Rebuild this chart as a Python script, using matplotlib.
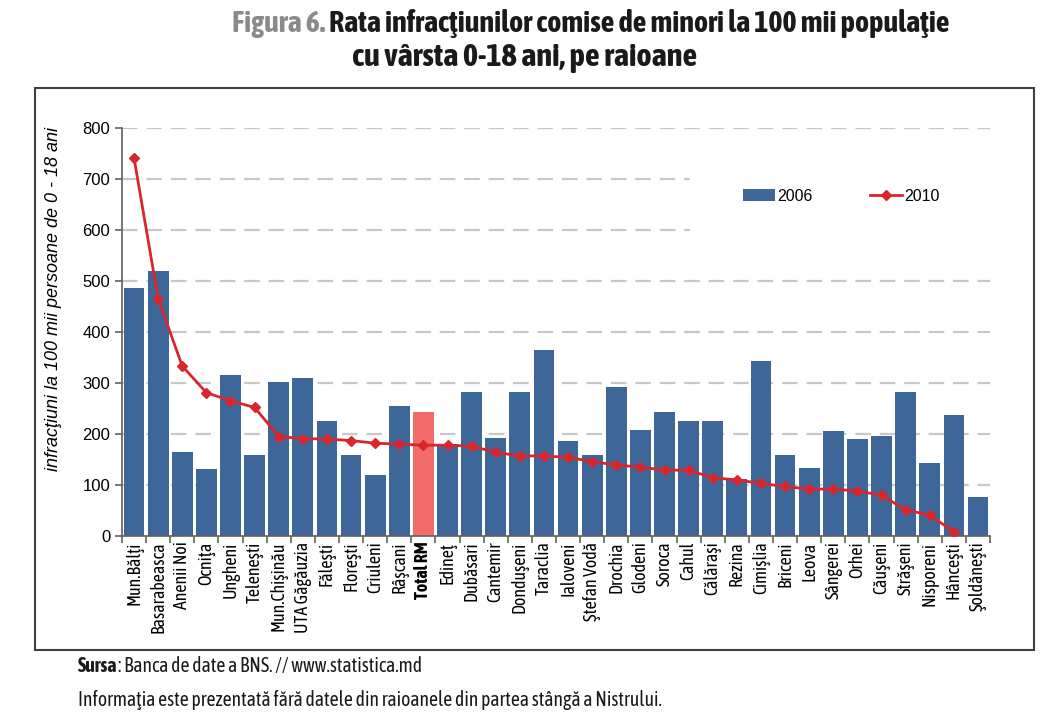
import matplotlib
matplotlib.use('Agg')
import matplotlib.pyplot as plt
from matplotlib import font_manager
import numpy as np
from matplotlib.patches import Rectangle, Patch
from matplotlib.lines import Line2D

raioane = ['Mun.Bălţi', 'Basarabeasca', 'Anenii Noi', 'Ocniţa', 'Ungheni', 'Teleneşti',
           'Mun.Chişinău', 'UTA Găgăuzia', 'Făleşti', 'Floreşti', 'Criuleni', 'Râşcani',
           'Total RM', 'Edineţ', 'Dubăsari', 'Cantemir', 'Donduşeni', 'Taraclia',
           'Ialoveni', 'Ştefan Vodă', 'Drochia', 'Glodeni', 'Soroca', 'Cahul',
           'Călăraşi', 'Rezina', 'Cimişlia', 'Briceni', 'Leova', 'Sângerei', 'Orhei',
           'Căuşeni', 'Străşeni', 'Nisporeni', 'Hânceşti', 'Şoldăneşti']
rata_2006 = [486, 520, 164, 131, 315, 159, 301, 310, 225, 159, 119, 254,
             244, 180, 282, 193, 282, 365, 187, 158, 293, 207, 243, 225,
             225, 112, 344, 158, 133, 205, 190, 196, 282, 144, 237, 76]
rata_2010 = [741, 465, 333, 281, 265, 252, 195, 191, 190, 187, 182, 180,
             178, 178, 176, 164, 157, 157, 154, 146, 139, 135, 129, 129,
             114, 110, 103, 97, 92, 92, 88, 80, 51, 41, 8, np.nan]


def wnum(w):
    if isinstance(w, str):
        return font_manager.weight_dict.get(w, 400)
    return int(w)


# find a condensed family that has both a regular and a bold face
faces = {}
for f in font_manager.fontManager.ttflist:
    if f.style != 'normal':
        continue
    faces.setdefault((f.name, f.stretch), set()).add(wnum(f.weight))
narrow_name, narrow_stretch = None, 'normal'
for (name, stretch), ws in sorted(faces.items()):
    is_narrow = ('Narrow' in name or 'Condensed' in name or
                 stretch in ('condensed', 'semi-condensed', 'extra-condensed'))
    if is_narrow and any(w >= 600 for w in ws) and any(350 <= w <= 500 for w in ws):
        narrow_name, narrow_stretch = name, stretch
        break
if narrow_name is None:
    narrow_name = 'Liberation Sans'
narrow = [narrow_name, 'DejaVu Sans']
cond = dict(family=narrow, stretch=narrow_stretch)
plain = ['Liberation Sans', 'DejaVu Sans']

blue = '#3d6798'
red = '#d9262c'
pink = '#f26b6b'

fig = plt.figure(figsize=(10.48, 7.2), dpi=100)
ax = fig.add_axes([0.1164, 0.2556, 0.8283, 0.5667])
r = fig.canvas.get_renderer()


def fit_size(txt, target_px, size, weight='normal'):
    # scale a font size so the text width matches the reference
    t = fig.text(0, 0, txt, fontsize=size, fontweight=weight, **cond)
    w = t.get_window_extent(r).width
    t.remove()
    return size * target_px / w


x = np.arange(len(raioane))
colors = [pink if c == 'Total RM' else blue for c in raioane]
ax.bar(x, rata_2006, width=0.86, color=colors, zorder=2)
ax.plot(x, rata_2010, color=red, marker='D', markersize=5, linewidth=2, zorder=3)

ax.set_xlim(-0.5, len(raioane) - 0.5)
ax.set_ylim(0, 800)
ax.set_yticks(range(0, 801, 100))
ax.yaxis.grid(True, color='#c8c8c8', linestyle=(0, (7, 4)), linewidth=1.6, zorder=0)
ax.set_axisbelow(True)

lab_size = fit_size('UTA Găgăuzia', 91, 12)
ax.set_xticks(np.arange(-0.5, len(raioane), 1))
ax.set_xticklabels([])
ax.set_xticks(x, minor=True)
ax.set_xticklabels(raioane, minor=True, rotation=90, fontsize=lab_size, **cond)
ax.tick_params(axis='x', which='major', length=5, width=1.2, color='#606060', direction='out')
ax.tick_params(axis='x', which='minor', length=0, pad=4)
ax.tick_params(axis='y', length=5, width=1.2, color='#606060')
for lbl in ax.get_yticklabels():
    lbl.set_family(plain)
    lbl.set_fontsize(12)
for lbl in ax.get_xticklabels(minor=True):
    if lbl.get_text() == 'Total RM':
        lbl.set_fontweight('bold')

for s in ['top', 'right']:
    ax.spines[s].set_visible(False)
for s in ['left', 'bottom']:
    ax.spines[s].set_color('#606060')
    ax.spines[s].set_linewidth(1.2)

ax.set_ylabel('infracţiuni la 100 mii persoane de 0 - 18 ani', style='italic',
              fontsize=13, family=plain)
ax.yaxis.set_label_coords(-0.069, 0.58)

# white area behind the legend, breaking the gridlines as in the original
ax.add_patch(Rectangle((0.654, 0.725), 0.346, 0.172, transform=ax.transAxes,
                       facecolor='white', edgecolor='none', zorder=1))
handles = [Patch(facecolor=blue), Line2D([], [], color=red, marker='D', markersize=5, linewidth=2)]
ax.legend(handles, ['2006', '2010'], loc='center', bbox_to_anchor=(0.829, 0.833), ncol=2,
          frameon=False, prop={'family': plain, 'size': 11.5},
          columnspacing=3.6, handlelength=2.0, handleheight=0.8, handletextpad=0.15)

# outer frame
fig.patches.append(Rectangle((0.0334, 0.0972), 0.9532, 0.7806, transform=fig.transFigure,
                             fill=False, edgecolor='#404040', linewidth=1.5))

# title
line1a = 'Figura 6. '
line1b = 'Rata infracţiunilor comise de minori la 100 mii populaţie'
line2 = 'cu vârsta 0-18 ani, pe raioane'
s1 = fit_size(line1a + line1b, 716, 20, 'bold')
s2 = fit_size(line2, 370, 20, 'bold')
s2 = (s1 * s2) ** 0.5
t1 = fig.text(232 / 1048, 0.968, line1a, color='#8a8a8a', fontsize=s1, fontweight='bold',
              va='center', **cond)
w1 = t1.get_window_extent(r).width / fig.bbox.width
fig.text(232 / 1048 + w1, 0.968, line1b, color='#1a1a1a', fontsize=s1,
         fontweight='bold', va='center', **cond)
fig.text(525 / 1048, 0.920, line2, color='#1a1a1a', fontsize=s2,
         fontweight='bold', ha='center', va='center', **cond)

# footer
note = 'Informaţia este prezentată fără datele din raioanele din partea stângă a Nistrului.'
fsize = fit_size(note, 582, 13)
f1 = fig.text(0.0745, 0.075, 'Sursa', fontweight='bold', fontsize=fsize,
              color='#1a1a1a', va='center', **cond)
wf = f1.get_window_extent(r).width / fig.bbox.width
fig.text(0.0745 + wf, 0.075, ': Banca de date a BNS. // www.statistica.md', fontsize=fsize,
         color='#1a1a1a', va='center', **cond)
fig.text(0.0745, 0.028, note, fontsize=fsize, color='#1a1a1a', va='center', **cond)

fig.savefig('out.png', dpi=100)
